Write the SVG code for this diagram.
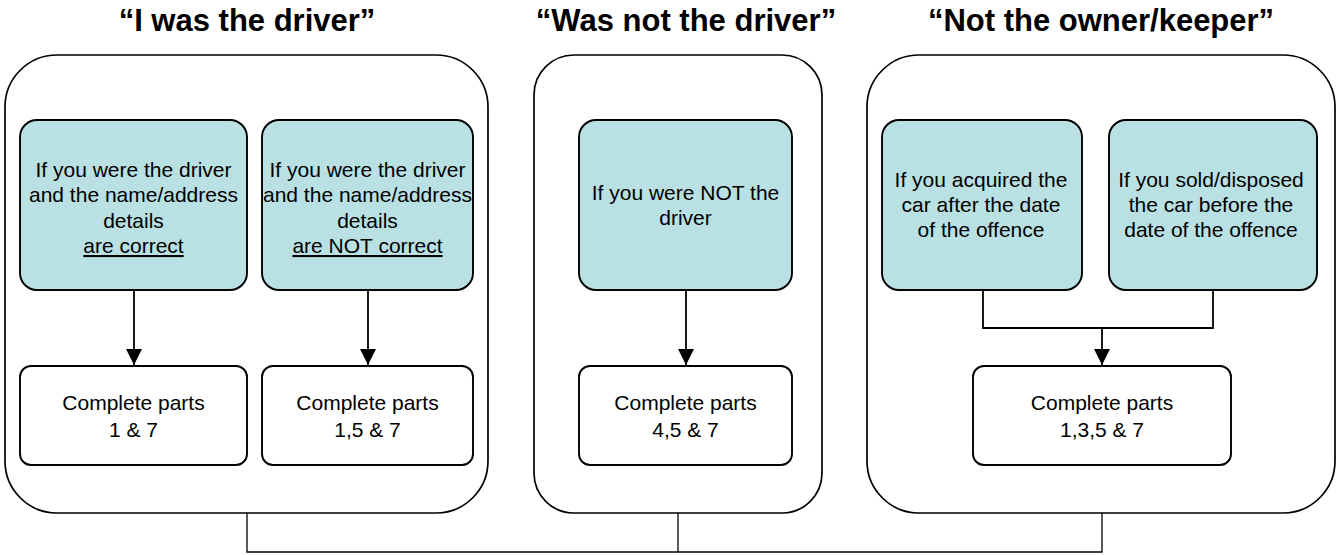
<svg xmlns="http://www.w3.org/2000/svg" width="1338" height="555" viewBox="0 0 1338 555">
<style>
.title{font-family:"Liberation Sans",Arial,sans-serif;font-weight:bold;font-size:31px;fill:#000;text-anchor:middle}
.t{font-family:"Liberation Sans",Arial,sans-serif;font-size:21px;fill:#000;text-anchor:middle}
.u{text-decoration:underline}
.cont{fill:#fff;stroke:#000;stroke-width:1.7}
.q{fill:#b9e0e3;stroke:#000;stroke-width:1.9}
.r{fill:#fff;stroke:#000;stroke-width:1.9}
.c{fill:none;stroke:#000;stroke-width:1.8}
.b{fill:none;stroke:#000;stroke-width:1.3}
</style>
<defs>
<marker id="ah" markerUnits="userSpaceOnUse" markerWidth="16" markerHeight="16" refX="16" refY="8" orient="auto">
<path d="M0,0 L16,8 L0,16 z" fill="#000"/>
</marker>
</defs>
<rect width="1338" height="555" fill="#fff"/>
<text class="title" x="247" y="31">“I was the driver”</text>
<text class="title" x="686" y="31">“Was not the driver”</text>
<text class="title" x="1101" y="31">“Not the owner/keeper”</text>

<g id="container-driver"><rect class="cont" x="5" y="55" width="483" height="458" rx="52" ry="52"/></g>
<g id="container-notdriver"><rect class="cont" x="534" y="55" width="288" height="458" rx="40" ry="40"/></g>
<g id="container-notowner"><rect class="cont" x="867" y="55" width="468" height="458" rx="52" ry="52"/></g>

<g id="q1"><rect class="q" x="20" y="120" width="227" height="170" rx="17"/>
<text class="t" x="133.5" y="177">If you were the driver</text>
<text class="t" x="133.5" y="202">and the name/address</text>
<text class="t" x="133.5" y="228">details</text>
<text class="t u" x="133.5" y="253">are correct</text></g>

<g id="q2"><rect class="q" x="262" y="120" width="211" height="170" rx="17"/>
<text class="t" x="367.5" y="177">If you were the driver</text>
<text class="t" x="367.5" y="202">and the name/address</text>
<text class="t" x="367.5" y="228">details</text>
<text class="t u" x="367.5" y="253">are NOT correct</text></g>

<g id="q3"><rect class="q" x="579" y="120" width="213" height="170" rx="17"/>
<text class="t" x="685.5" y="200">If you were NOT the</text>
<text class="t" x="685.5" y="225">driver</text></g>

<g id="q4"><rect class="q" x="882" y="120" width="200" height="170" rx="17"/>
<text class="t" x="981" y="187">If you acquired the</text>
<text class="t" x="981" y="212">car after the date</text>
<text class="t" x="981" y="237">of the offence</text></g>

<g id="q5"><rect class="q" x="1109" y="120" width="208" height="170" rx="17"/>
<text class="t" x="1211" y="187">If you sold/disposed</text>
<text class="t" x="1211" y="212">the car before the</text>
<text class="t" x="1211" y="237">date of the offence</text></g>

<g id="a1"><rect class="r" x="20" y="366" width="227" height="99" rx="11"/>
<text class="t" x="133.5" y="410">Complete parts</text>
<text class="t" x="133.5" y="437">1 &amp; 7</text></g>

<g id="a2"><rect class="r" x="262" y="366" width="211" height="99" rx="11"/>
<text class="t" x="367.5" y="410">Complete parts</text>
<text class="t" x="367.5" y="437">1,5 &amp; 7</text></g>

<g id="a3"><rect class="r" x="579" y="366" width="213" height="99" rx="11"/>
<text class="t" x="685.5" y="410">Complete parts</text>
<text class="t" x="685.5" y="437">4,5 &amp; 7</text></g>

<g id="a4"><rect class="r" x="973" y="366" width="258" height="99" rx="11"/>
<text class="t" x="1102" y="410">Complete parts</text>
<text class="t" x="1102" y="437">1,3,5 &amp; 7</text></g>

<g id="connectors">
<line class="c" x1="134" y1="290" x2="134" y2="365" marker-end="url(#ah)"/>
<line class="c" x1="368" y1="290" x2="368" y2="365" marker-end="url(#ah)"/>
<line class="c" x1="686" y1="290" x2="686" y2="365" marker-end="url(#ah)"/>
<polyline class="c" points="983,290 983,328 1213,328 1213,290"/>
<line class="c" x1="1102" y1="328" x2="1102" y2="365" marker-end="url(#ah)"/>
<polyline class="b" points="247,513 247,552 1102,552 1102,513"/>
<line class="b" x1="678" y1="513" x2="678" y2="552"/>
</g>
</svg>
